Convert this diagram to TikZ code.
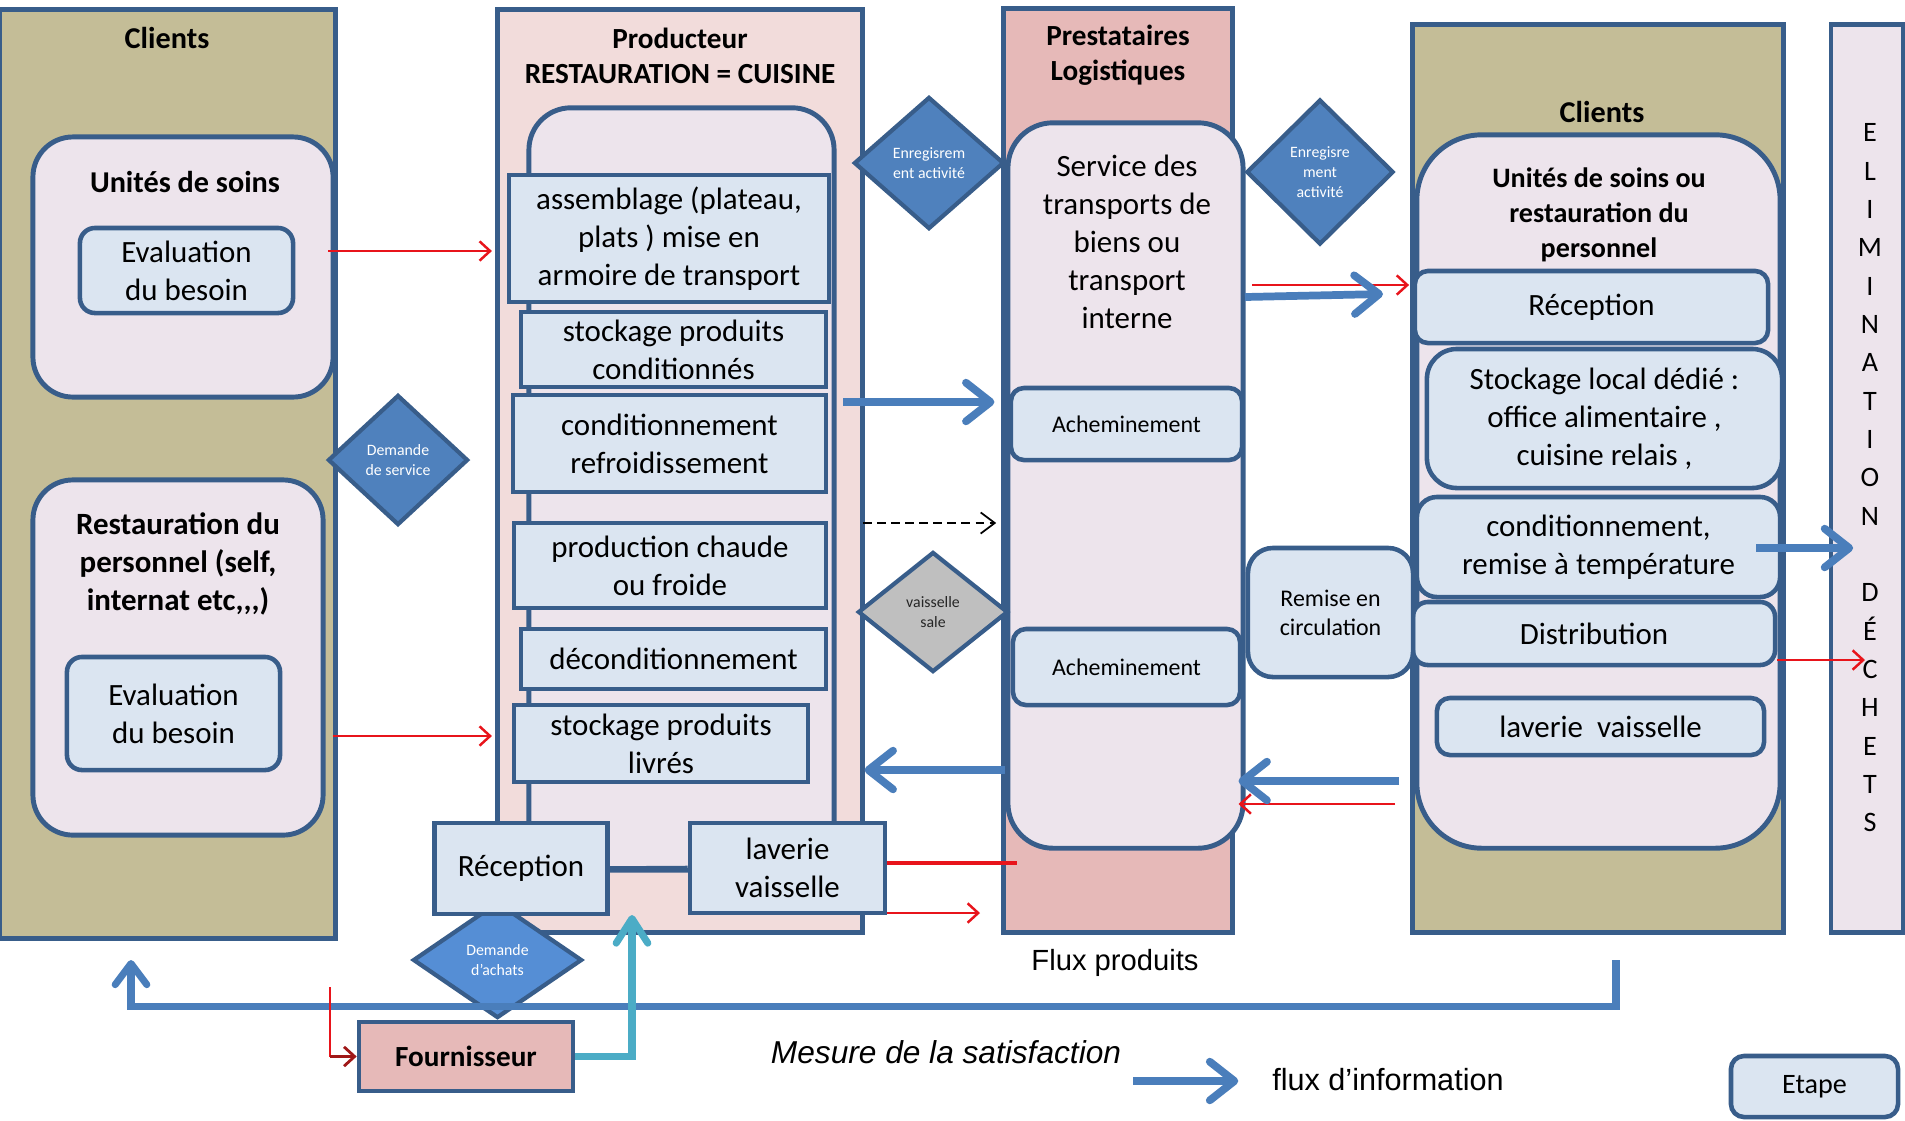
\documentclass[tikz,border=0pt]{standalone}
\usepackage{fontspec}
\setmainfont{Carlito}
\newfontfamily\arialfont{Liberation Sans}
\usepackage{tikz}
\usetikzlibrary{arrows.meta, shapes.geometric}

\definecolor{edgeblue}{HTML}{385D8A}
\definecolor{tanfill}{HTML}{C4BD97}
\definecolor{stepfill}{HTML}{DBE5F1}
\definecolor{lavfill}{HTML}{EDE4EC}
\definecolor{prodfill}{HTML}{F2DCDB}
\definecolor{prestfill}{HTML}{E6B9B8}
\definecolor{diamblue}{HTML}{4F81BD}
\definecolor{achatblue}{HTML}{558ED5}
\definecolor{diamgray}{HTML}{BFBFBF}
\definecolor{infoblue}{HTML}{4A7EBB}
\definecolor{cyanflow}{HTML}{4BACC6}
\definecolor{redflow}{HTML}{E8141B}
\definecolor{darkredflow}{HTML}{A01818}

\begin{document}
\begin{tikzpicture}[x=0.01cm, y=-0.01cm,
  panel/.style={draw=edgeblue, line width=1.4pt, inner sep=0pt},
  bodytxt/.style={font=\fontsize{8.8}{10.8}\selectfont},
  smalltxt/.style={font=\fontsize{6.8}{8.2}\selectfont},
  ttl/.style={inner sep=0pt, align=center, font=\bfseries\fontsize{8.3}{10}\selectfont},
  stepbox/.style={draw=edgeblue, line width=1.3pt, fill=stepfill, inner sep=0pt, align=center, bodytxt},
  softbox/.style={stepbox, rounded corners=0.13cm},
  bigbox/.style={draw=edgeblue, line width=1.4pt, fill=lavfill, inner sep=0pt},
  decision/.style={diamond, draw=edgeblue, line width=1.2pt, fill=diamblue, inner sep=0pt, align=center, text=white, font=\fontsize{4.5}{5.7}\selectfont},
  infoarr/.style={draw=infoblue, line width=2.2pt, -{Straight Barb[length=7pt, width=11pt, round]}},
  redarr/.style={draw=redflow, line width=0.7pt, -{Straight Barb[length=3pt, width=5.5pt]}},
  dasharr/.style={draw=black, line width=0.5pt, dash pattern=on 2.5pt off 1.5pt, -{Straight Barb[length=4pt, width=6pt]}},
  cyanarr/.style={draw=cyanflow, line width=2pt, -{Straight Barb[length=7pt, width=9pt, round]}},
  arialtxt/.style={inner sep=0pt, font=\arialfont\fontsize{8.7}{10}\selectfont}
]
\fill[white] (0,0) rectangle (1905,1120);
\useasboundingbox (0,0) rectangle (1905,1120);

% Columns
\node[panel, fill=tanfill, minimum width=3.35cm, minimum height=9.28cm] (cliL) at (167.5,474) {};
\node[panel, fill=prodfill, minimum width=3.64cm, minimum height=9.22cm] (prod) at (680,471) {};
\node[panel, fill=prestfill, minimum width=2.28cm, minimum height=9.23cm] (prest) at (1118,470.5) {};
\node[panel, fill=tanfill, minimum width=3.70cm, minimum height=9.07cm] (cliR) at (1598,478.5) {};
\node[panel, fill=lavfill, minimum width=0.72cm, minimum height=9.07cm] (elim) at (1867,478.5) {};

% Column titles
\node[ttl, font=\bfseries\fontsize{8.6}{10}\selectfont] (cliLT) at (167,38) {Clients};
\node[ttl] (prodT) at (680,55.5) {Producteur\\RESTAURATION = CUISINE};
\node[ttl] (prestT) at (1118,55.5) {Prestataires\\Logistiques};
\node[ttl, font=\bfseries\fontsize{8.6}{10}\selectfont] (cliRT) at (1602,112) {Clients};
\node[inner sep=0pt, align=center, font=\fontsize{8}{10.9}\selectfont] (elimT) at (1870,478)
  {E\\L\\I\\M\\I\\N\\A\\T\\I\\O\\N\\[10.9pt]D\\É\\C\\H\\E\\T\\S};

% Clients (left)
\node[bigbox, rounded corners=0.4cm, minimum width=3.00cm, minimum height=2.60cm] (uds) at (183,267) {};
\node[ttl, font=\bfseries\fontsize{8.6}{10}\selectfont] (udsT) at (185,182) {Unités de soins};
\node[softbox, rounded corners=0.15cm, minimum width=2.13cm, minimum height=0.85cm] (eval1) at (186.5,270.5) {Evaluation\\du besoin};
\node[bigbox, rounded corners=0.4cm, minimum width=2.90cm, minimum height=3.55cm] (rdp) at (178,657.5) {};
\node[ttl, font=\bfseries\fontsize{8.8}{10.8}\selectfont] (rdpT) at (178,564) {Restauration du\\personnel (self,\\internat etc{,}{,}{,})};
\node[softbox, rounded corners=0.15cm, minimum width=2.13cm, minimum height=1.13cm] (eval2) at (173.5,713.5) {Evaluation\\du besoin};

% Producteur
\node[bigbox, rounded corners=0.42cm, minimum width=3.05cm, minimum height=7.62cm] (cuis) at (681.5,489) {};
\node[stepbox, minimum width=3.20cm, minimum height=1.27cm] (assemb) at (669,238.5) {assemblage (plateau,\\plats ) mise en\\armoire de transport};
\node[stepbox, minimum width=3.05cm, minimum height=0.75cm] (stockc) at (673.5,349.5) {stockage produits\\conditionnés};
\node[stepbox, minimum width=3.13cm, minimum height=0.97cm] (condit) at (669.5,443.5) {conditionnement\\refroidissement};
\node[stepbox, minimum width=3.12cm, minimum height=0.85cm] (prodcf) at (670,565.5) {production chaude\\ou froide};
\node[stepbox, minimum width=3.05cm, minimum height=0.60cm] (decond) at (673.5,659) {déconditionnement};
\node[stepbox, minimum width=2.94cm, minimum height=0.77cm] (stockl) at (661,743.5) {stockage produits\\livrés};

% Prestataires
\node[bigbox, rounded corners=0.45cm, minimum width=2.35cm, minimum height=7.25cm] (serv) at (1125.5,485.5) {};
\node[inner sep=0pt, align=center, bodytxt] (servT) at (1127,241.5) {Service des\\transports de\\biens ou\\transport\\interne};
\node[softbox, smalltxt, minimum width=2.31cm, minimum height=0.72cm] (ach1) at (1126.5,424) {Acheminement};
\node[softbox, smalltxt, minimum width=2.27cm, minimum height=0.76cm] (ach2) at (1126.5,667) {Acheminement};

% Clients (right)
\node[bigbox, rounded corners=0.65cm, minimum width=3.63cm, minimum height=7.13cm] (ucl) at (1598.5,491.5) {};
\node[ttl, font=\bfseries\fontsize{8}{10}\selectfont] (uclT) at (1599,215) {Unités de soins ou\\restauration du\\personnel};
\node[softbox, minimum width=3.53cm, minimum height=0.72cm] (recR) at (1591.5,307) {Réception};
\node[softbox, rounded corners=0.3cm, minimum width=3.55cm, minimum height=1.39cm] (stock) at (1604.5,418.5) {Stockage local dédié :\\office alimentaire ,\\cuisine relais ,};
\node[softbox, rounded corners=0.2cm, minimum width=3.63cm, minimum height=1.00cm] (condR) at (1598.5,547) {conditionnement,\\remise à température};
\node[softbox, rounded corners=0.15cm, minimum width=3.62cm, minimum height=0.63cm] (distr) at (1594,633.5) {Distribution};
\node[softbox, minimum width=3.27cm, minimum height=0.57cm] (lavR) at (1600.5,726.5) {laverie\ \ vaisselle};
\node[softbox, smalltxt, rounded corners=0.25cm, minimum width=1.65cm, minimum height=1.29cm] (remise) at (1330.5,612.5) {Remise en\\circulation};

% Decisions
\node[decision, minimum width=1.40cm, minimum height=1.30cm] (dserv) at (398,460) {Demande\\de service};
\node[decision, minimum width=1.50cm, minimum height=1.32cm] (enr1) at (929,163) {Enregisrem\\ent activité};
\node[decision, fill=diamgray, text=black!85, minimum width=1.50cm, minimum height=1.20cm] (vsale) at (933,612) {vaisselle\\sale};
\node[decision, minimum width=1.47cm, minimum height=1.45cm] (enr2) at (1320,172) {Enregisre\\ment\\activité};
\node[decision, fill=achatblue, minimum width=1.69cm, minimum height=1.16cm] (dachat) at (497.5,960) {Demande\\d’achats};

% Reception and laverie of the kitchen
\node[stepbox, minimum width=1.73cm, minimum height=0.91cm] (recep) at (521,868.5) {Réception};
\node[stepbox, minimum width=1.95cm, minimum height=0.90cm] (lavP) at (787.5,868) {laverie\\vaisselle};
\draw[edgeblue, line width=1.3pt] (recep.east) -- (lavP.west);

% Product flows
\coordinate (r1) at (328,251);
\coordinate (r2) at (333,736);
\draw[redarr, shorten >=1pt] (r1) -- (r1 -| prod.west);
\draw[redarr, shorten >=1pt] (r2) -- (r2 -| prod.west);
\coordinate (r3) at (1017,863);
\draw[redflow, line width=1.1pt] (r3 -| lavP.east) -- (r3);
\coordinate (r4) at (980,913);
\draw[redarr] (r4 -| lavP.east) -- (r4);
\coordinate (r5) at (1252,285);
\draw[redarr, shorten >=1pt] (r5) -- (r5 -| recR.west);
\coordinate (r6) at (1395,804);
\draw[redarr, shorten >=-2pt] (r6) -- (r6 -| serv.east);
\coordinate (r7) at (1865,660);
\draw[redarr] (r7 -| distr.east) -- (r7);
\coordinate (d1) at (863,523);
\draw[dasharr, shorten >=1.5pt] (d1) -- (d1 -| prest.west);

% Information flows
\coordinate (i1) at (843,402);
\draw[infoarr, shorten >=2pt] (i1) -- (i1 -| prest.west);
\coordinate (i2) at (1005,770);
\draw[infoarr] (i2) -- (i2 -| prod.east);
\coordinate (i3a) at (1245,297);
\coordinate (i3b) at (1383,294);
\draw[infoarr] (i3a) -- (i3b);
\coordinate (i4) at (1399,781);
\draw[infoarr, shorten >=-2pt] (i4) -- (i4 -| serv.east);
\coordinate (i5) at (1756,548);
\draw[infoarr, shorten >=4.8pt] (i5) -- (i5 -| elimT);

% Satisfaction loop
\coordinate (m1) at (1616,960);
\coordinate (m2) at (131,960);
\coordinate (m3) at (131,1006);
\draw[infoarr, line width=2pt, -{Straight Barb[length=6pt, width=9pt, round]}] (m1) |- (m3) -- (m2);

% Supplier
\node[stepbox, fill=prestfill, font=\bfseries\fontsize{8.3}{10}\selectfont, minimum width=2.14cm, minimum height=0.69cm] (fourn) at (466,1056.5) {Fournisseur};
\coordinate (r8) at (330,987);
\draw[redflow, line width=0.8pt] (r8) -- (r8 |- fourn.west);
\draw[darkredflow, line width=0.8pt, -{Straight Barb[length=3pt, width=5.5pt]}] (r8 |- fourn.west) -- (fourn.west);
\coordinate (c1) at (632,915);
\draw[cyanarr] (fourn.east) -| (c1);

% Legend
\node[arialtxt, font=\arialfont\fontsize{8.3}{10}\selectfont] (fluxp) at (1115,963) {Flux produits};
\node[arialtxt, font=\arialfont\itshape\fontsize{9}{10}\selectfont] (mesure) at (946,1052) {Mesure de la satisfaction};
\node[arialtxt] (fluxi) at (1388,1080) {flux d’information};
\coordinate (l1) at (1133,1081);
\draw[infoarr, shorten >=9.5pt] (l1) -- (l1 -| fluxi.west);
\node[softbox, font=\fontsize{8}{10}\selectfont, minimum width=1.67cm, minimum height=0.61cm] (etape) at (1814.5,1086.5) {Etape};
\end{tikzpicture}
\end{document}
